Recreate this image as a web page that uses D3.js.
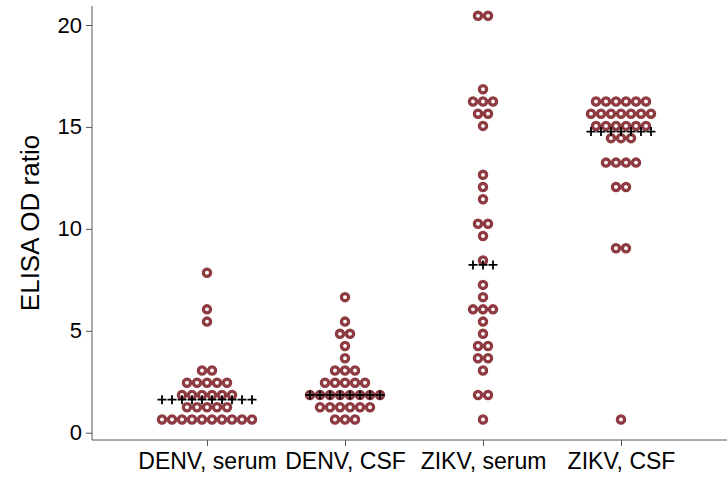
<!DOCTYPE html>
<html><head><meta charset="utf-8">
<script src="https://cdn.jsdelivr.net/npm/d3@7/dist/d3.min.js"></script>
<style>
html,body{margin:0;padding:0;background:#fff;}
svg{display:block;font-family:"Liberation Sans",Arial,Helvetica,sans-serif;}
</style></head>
<body>
<svg id="chart" width="727" height="479"></svg>
<script>
// ---- data ----
const categories = ["DENV, serum", "DENV, CSF", "ZIKV, serum", "ZIKV, CSF"];

const denvSerum = [0.65,0.65,0.65,0.65,0.65,0.65,0.65,0.65,0.65,0.65,
  1.25,1.25,1.25,1.25,1.25,
  1.85,1.85,1.85,1.85,1.85,1.85,
  2.45,2.45,2.45,2.45,2.45,
  3.05,3.05, 5.45, 6.05, 7.85];

const denvCSF = [0.65,0.65,0.65,
  1.25,1.25,1.25,1.25,1.25,1.25,
  1.85,1.85,1.85,1.85,1.85,1.85,1.85,1.85,
  2.45,2.45,2.45,2.45,2.45,
  3.05,3.05,3.05, 3.65, 4.25, 4.85,4.85, 5.45, 6.65];

const zikvSerum = [0.65, 1.85,1.85, 3.05, 3.65,3.65, 4.25,4.25, 4.85, 5.45,
  6.05,6.05,6.05, 6.65, 7.25, 8.45, 9.65, 10.25,10.25, 11.45, 12.05, 12.65,
  15.05, 15.65,15.65, 16.25,16.25,16.25, 16.85, 20.45,20.45];

const zikvCSF = [0.65, 9.05,9.05, 12.05,12.05, 13.25,13.25,13.25,13.25,
  14.45,14.45,14.45,
  15.05,15.05,15.05,15.05,15.05,15.05,
  15.65,15.65,15.65,15.65,15.65,15.65,15.65,
  16.25,16.25,16.25,16.25,16.25,16.25];

const seriesValues = [denvSerum, denvCSF, zikvSerum, zikvCSF];
const centerLine = [1.62, 1.85, 8.23, 14.77];   // line of "+" markers
const yTicks = [0, 5, 10, 15, 20];
const yTitle = "ELISA OD ratio";

// ---- layout ----
const svg = d3.select("#chart");
const axisX = 92, axisY = 440;
const dotStep = 10;
const fontFam = '"Liberation Sans",Arial,Helvetica,sans-serif';

const x = d3.scalePoint().domain(categories).range([207, 621]);
const y = d3.scaleLinear().domain([0, 20]).range([432.7, 25]);

const dotColor = "#8e3a41";

// y axis
const yAxis = d3.axisLeft(y).tickValues(yTicks).tickSize(6).tickPadding(4).tickFormat(d3.format("d"));
const gy = svg.append("g").attr("transform", `translate(${axisX},0)`).call(yAxis);
gy.select(".domain").remove();
gy.selectAll(".tick line").attr("stroke", "#555").attr("stroke-width", 1);
gy.selectAll(".tick text").attr("font-size", 22).attr("fill", "#000").attr("font-family", fontFam);
svg.append("line").attr("x1", axisX).attr("x2", axisX).attr("y1", 6).attr("y2", axisY)
  .attr("stroke", "#555").attr("stroke-width", 1);

// x axis
const xAxis = d3.axisBottom(x).tickSize(6).tickPadding(7);
const gx = svg.append("g").attr("transform", `translate(0,${axisY})`).call(xAxis);
gx.select(".domain").remove();
gx.selectAll(".tick line").attr("stroke", "#555");
gx.selectAll(".tick text").attr("font-size", 23).attr("fill", "#000").attr("font-family", fontFam);
svg.append("line").attr("x1", axisX).attr("x2", 727).attr("y1", axisY).attr("y2", axisY)
  .attr("stroke", "#555").attr("stroke-width", 1);

// y title
svg.append("text").attr("transform", `translate(39,${(6 + axisY) / 2}) rotate(-90)`)
  .attr("text-anchor", "middle").attr("font-size", 26).attr("fill", "#000")
  .attr("font-family", fontFam)
  .text(yTitle);

// dots
const dots = [];
seriesValues.forEach((vals, gi) => {
  const rows = d3.group(vals, v => v);
  rows.forEach((arr, v) => {
    const n = arr.length;
    arr.forEach((_, i) => {
      dots.push({cat: categories[gi], v: v, off: (i - (n - 1) / 2) * dotStep});
    });
  });
});

// center "+" lines: as many markers as the widest row
const pluses = [];
seriesValues.forEach((vals, gi) => {
  const maxN = d3.max(Array.from(d3.rollup(vals, a => a.length, v => v).values()));
  for (let i = 0; i < maxN; i++) {
    pluses.push({cat: categories[gi], v: centerLine[gi], off: (i - (maxN - 1) / 2) * dotStep});
  }
});

svg.append("g").selectAll("circle").data(dots).join("circle")
  .attr("cx", d => x(d.cat) + d.off)
  .attr("cy", d => y(d.v))
  .attr("r", 3.6)
  .attr("fill", "none")
  .attr("stroke", dotColor)
  .attr("stroke-width", 3.3);

svg.append("g").selectAll("path").data(pluses).join("path")
  .attr("transform", d => `translate(${x(d.cat) + d.off},${y(d.v)})`)
  .attr("d", "M-4.5,0H4.5M0,-4.5V4.5")
  .attr("stroke", "#000")
  .attr("stroke-width", 1.8)
  .attr("fill", "none");
</script>
</body></html>
